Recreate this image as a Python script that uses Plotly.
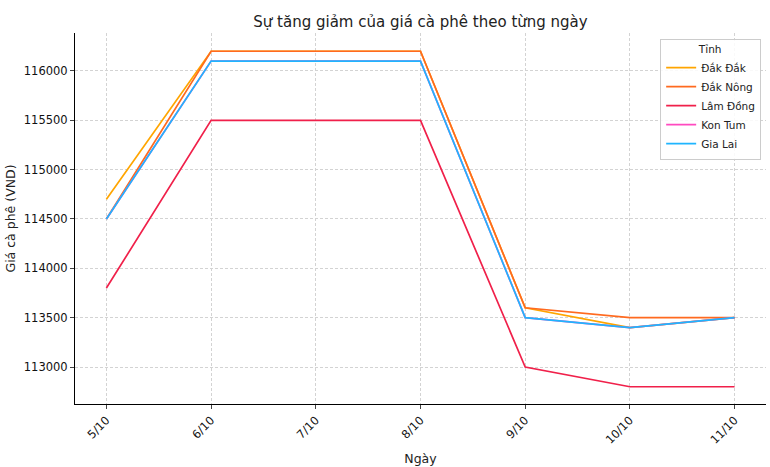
import plotly.graph_objects as go

days = ["5/10", "6/10", "7/10", "8/10", "9/10", "10/10", "11/10"]
provinces = ["Đắk Đắk", "Đắk Nông", "Lâm Đồng", "Kon Tum", "Gia Lai"]
dak_dak = [114700, 116200, 116200, 116200, 113600, 113400, 113500]
dak_nong = [114500, 116200, 116200, 116200, 113600, 113500, 113500]
lam_dong = [113800, 115500, 115500, 115500, 113000, 112800, 112800]
kon_tum = [114500, 116100, 116100, 116100, 113500, 113400, 113500]
gia_lai = [114500, 116100, 116100, 116100, 113500, 113400, 113500]
series = [dak_dak, dak_nong, lam_dong, kon_tum, gia_lai]
colors = ["#FFA500", "#FF6A1F", "#F0204A", "#FF4AC0", "#1FB5FF"]

font = "DejaVu Sans"
fig = go.Figure()
for name, vals, c in zip(provinces, series, colors):
    fig.add_trace(go.Scatter(x=list(range(len(days))), y=vals, mode="lines", name=name,
                             line=dict(color=c, width=1.7)))

grid = dict(showgrid=True, gridcolor="#d3d3d3", griddash="3px,2px", gridwidth=0.8)
fig.update_layout(
    width=770, height=467,
    margin=dict(l=75, r=4, t=33, b=63),
    paper_bgcolor="white", plot_bgcolor="white",
    font=dict(family=font, color="#222", size=11),
    title=dict(text="Sự tăng giảm của giá cà phê theo từng ngày", x=0.5, xref="paper",
               xanchor="center", y=1 - 22 / 467, yanchor="middle",
               font=dict(size=15, color="#222")),
    xaxis=dict(tickmode="array", tickvals=list(range(len(days))), ticktext=days,
               range=[-0.3, 6.3], tickangle=-45, ticks="outside", ticklen=4,
               showline=True, linecolor="black", linewidth=1, mirror=False,
               zeroline=False, tickfont=dict(size=11.5, color="#111"),
               title=dict(text="Ngày", font=dict(size=12.5), standoff=8), **grid),
    yaxis=dict(range=[112625, 116385], tickmode="array",
               tickvals=[113000, 113500, 114000, 114500, 115000, 115500, 116000],
               ticktext=["113000", "113500", "114000", "114500", "115000", "115500", "116000"],
               ticks="outside", ticklen=4, showline=True, linecolor="black", linewidth=1,
               zeroline=False, tickfont=dict(size=11.5, color="#111"),
               title=dict(text="Giá cà phê (VND)", font=dict(size=12.5), standoff=5), **grid),
    legend=dict(title=dict(text="Tỉnh", side="top center", font=dict(size=10.5)),
                x=0.993, y=0.985, xanchor="right", yanchor="top",
                bgcolor="rgba(255,255,255,0.85)", bordercolor="#cccccc", borderwidth=1,
                font=dict(size=10.5), tracegroupgap=0, itemwidth=30),
)
fig.write_html("out.html")
